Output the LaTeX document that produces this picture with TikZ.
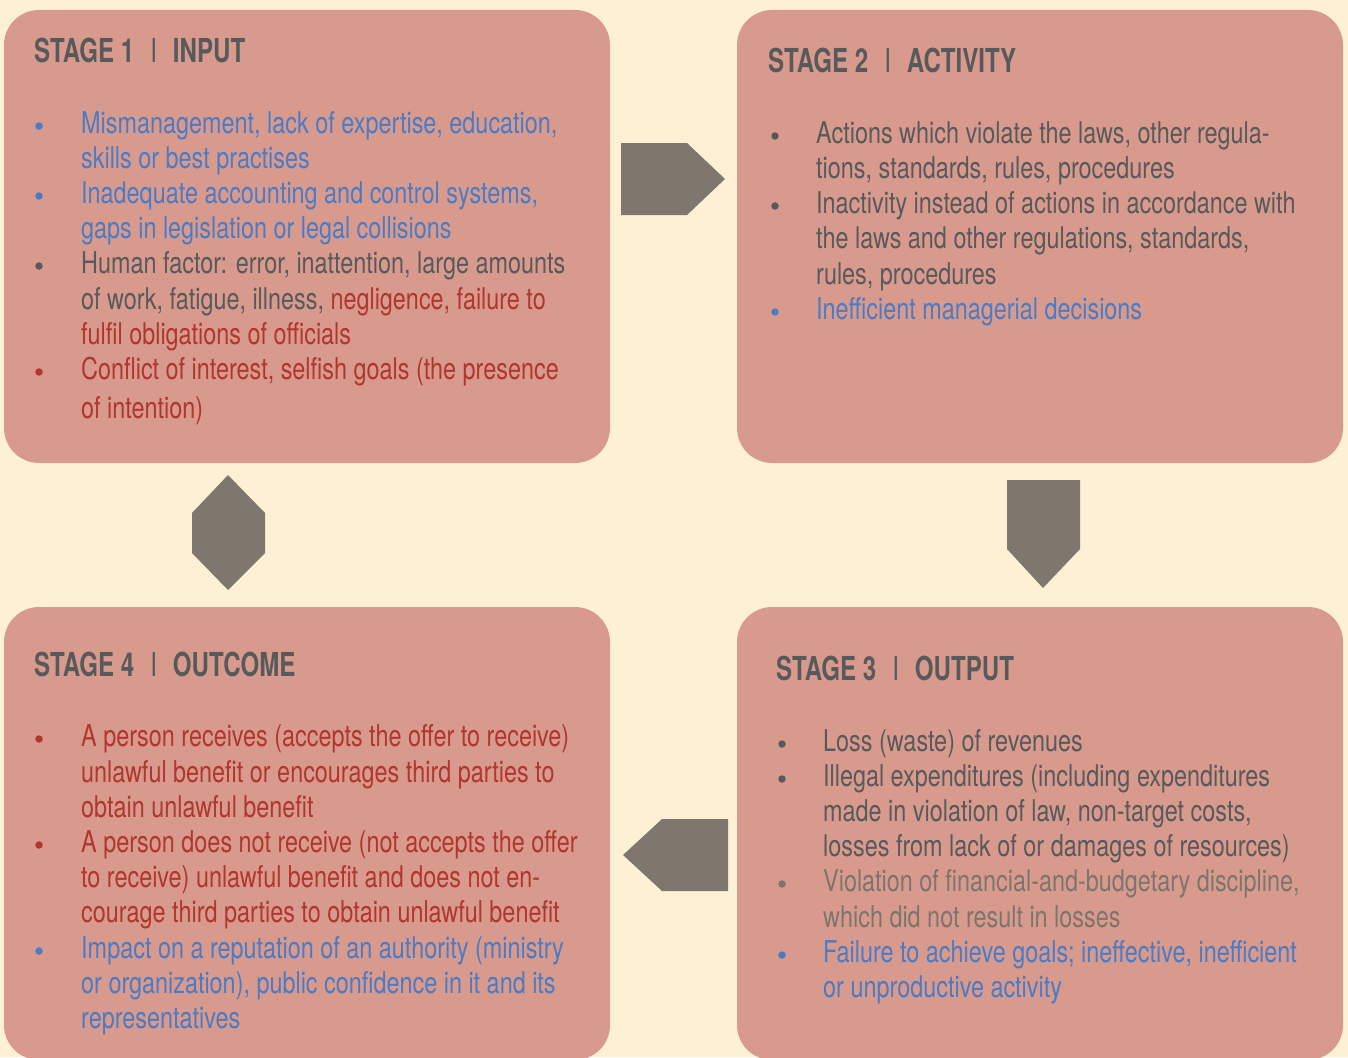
\documentclass[tikz,border=0pt]{standalone}
\usepackage{fontspec}
\setmainfont{TeX Gyre Heros}[FakeStretch=0.78]
\newfontfamily\titlefam{TeX Gyre Heros}[FakeStretch=0.73]
\definecolor{bg}{HTML}{FDF0D5}
\definecolor{boxc}{HTML}{D99A8E}
\definecolor{arr}{HTML}{7F776E}
\definecolor{dk}{HTML}{58595B}
\definecolor{bl}{HTML}{4A7BC4}
\definecolor{rd}{HTML}{B0362E}
\definecolor{lg}{HTML}{7D756C}
\newcommand\stagetitle[2]{#1\hspace{16pt}{\mdseries I}\hspace{16pt}#2}
\tikzset{
  stagebox/.style={rectangle, rounded corners=35pt, fill=boxc, draw=none,
    minimum width=606pt, minimum height=453pt, inner sep=0pt},
  titletext/.style={anchor=base west, inner sep=0pt, text=dk,
    font=\titlefam\bfseries\fontsize{33}{40}\selectfont},
  body/.style={anchor=base west, inner sep=0pt,
    font=\fontsize{30}{35}\selectfont},
  dot/.style={circle, inner sep=0pt, minimum size=7.5pt, draw=none},
  blockarrow/.style={fill=arr, draw=none}
}
\begin{document}
\begin{tikzpicture}[x=1pt,y=-1pt]
\useasboundingbox (0,0) rectangle (1348,1057);
\fill[bg] (0,0) rectangle (1348,1057);
\begin{scope}
\clip (0,0) rectangle (1348,1057);
\node[stagebox] (box1) at (307,236.5) {};
\node[stagebox] (box2) at (1040,236.5) {};
\node[stagebox] (box3) at (1040,833.5) {};
\node[stagebox] (box4) at (307,833.5) {};
\end{scope}

% block arrows
\fill[blockarrow] (621,143) -- (687,143) -- (725,179) -- (687,215) -- (621,215) -- cycle;
\fill[blockarrow] (1007,480) -- (1080,480) -- (1080,549) -- (1043,588) -- (1007,549) -- cycle;
\fill[blockarrow] (728,819) -- (662,819) -- (623,855) -- (662,891) -- (728,891) -- cycle;
\fill[blockarrow] (228,475) -- (265,513) -- (265,553) -- (228,590) -- (192,553) -- (192,513) -- cycle;

% Stage 1
\node[titletext] (t1) at (34,62.5) {\stagetitle{STAGE 1}{INPUT}};
\node[body,text=bl] (a1) at (81,133.5) {Mismanagement, lack of expertise, education,};
\node[body,text=bl] (a2) at (81,168.5) {skills or best practises};
\node[body,text=bl] (a3) at (81,203.5) {Inadequate accounting and control systems,};
\node[body,text=bl] (a4) at (81,238.5) {gaps in legislation or legal collisions};
\node[body,text=dk] (a5) at (81,273.5) {Human factor: error, inattention, large amounts};
\node[body,text=dk] (a6) at (81,309) {of work, fatigue, illness, \textcolor{rd}{negligence, failure to}};
\node[body,text=rd] (a7) at (81,344) {fulfil obligations of officials};
\node[body,text=rd] (a8) at (81,379.5) {Conflict of interest, selfish goals (the presence};
\node[body,text=rd] (a9) at (81,418) {of intention)};
\node[dot,fill=bl] (ad1) at (39,126) {};
\node[dot,fill=bl] (ad2) at (39,196) {};
\node[dot,fill=dk] (ad3) at (39,266) {};
\node[dot,fill=rd] (ad4) at (39,372) {};

% Stage 2
\node[titletext] (t2) at (768,72) {\stagetitle{STAGE 2}{ACTIVITY}};
\node[body,text=dk] (b1) at (816,143.5) {Actions which violate the laws, other regula-};
\node[body,text=dk] (b2) at (816,178.5) {tions, standards, rules, procedures};
\node[body,text=dk] (b3) at (816,213.5) {Inactivity instead of actions in accordance with};
\node[body,text=dk] (b4) at (816,248.5) {the laws and other regulations, standards,};
\node[body,text=dk] (b5) at (816,284) {rules, procedures};
\node[body,text=bl] (b6) at (816,319.5) {Inefficient managerial decisions};
\node[dot,fill=dk] (bd1) at (775,136) {};
\node[dot,fill=dk] (bd2) at (775,206) {};
\node[dot,fill=bl] (bd3) at (775,312) {};

% Stage 3
\node[titletext] (t3) at (776,680) {\stagetitle{STAGE 3}{OUTPUT}};
\node[body,text=dk] (c1) at (823,751.5) {Loss (waste) of revenues};
\node[body,text=dk] (c2) at (823,786.5) {Illegal expenditures (including expenditures};
\node[body,text=dk] (c3) at (823,821.5) {made in violation of law, non-target costs,};
\node[body,text=dk] (c4) at (823,856.5) {losses from lack of or damages of resources)};
\node[body,text=lg] (c5) at (823,891.7) {Violation of financial-and-budgetary discipline,};
\node[body,text=lg] (c6) at (823,927) {which did not result in losses};
\node[body,text=bl] (c7) at (823,962.5) {Failure to achieve goals; ineffective, inefficient};
\node[body,text=bl] (c8) at (823,997.5) {or unproductive activity};
\node[dot,fill=dk] (cd1) at (782,744) {};
\node[dot,fill=dk] (cd2) at (782,779) {};
\node[dot,fill=lg] (cd3) at (782,884) {};
\node[dot,fill=bl] (cd4) at (782,955) {};

% Stage 4
\node[titletext] (t4) at (34,676) {\stagetitle{STAGE 4}{OUTCOME}};
\node[body,text=rd] (d1) at (81,746.5) {A person receives (accepts the offer to receive)};
\node[body,text=rd] (d2) at (81,782) {unlawful benefit or encourages third parties to};
\node[body,text=rd] (d3) at (81,817) {obtain unlawful benefit};
\node[body,text=rd] (d4) at (81,852.5) {A person does not receive (not accepts the offer};
\node[body,text=rd] (d5) at (81,887.5) {to receive) unlawful benefit and does not en-};
\node[body,text=rd] (d6) at (81,922.5) {courage third parties to obtain unlawful benefit};
\node[body,text=bl] (d7) at (81,958) {Impact on a reputation of an authority (ministry};
\node[body,text=bl] (d8) at (81,993) {or organization), public confidence in it and its};
\node[body,text=bl] (d9) at (81,1028) {representatives};
\node[dot,fill=rd] (dd1) at (39,739) {};
\node[dot,fill=rd] (dd2) at (39,845) {};
\node[dot,fill=bl] (dd3) at (39,951) {};
\end{tikzpicture}
\end{document}
